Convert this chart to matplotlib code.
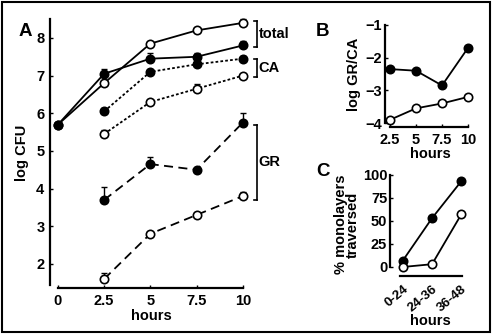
import matplotlib
matplotlib.use("Agg")
import matplotlib.pyplot as plt
from matplotlib.patches import Rectangle

plt.rcParams['font.family'] = ['Liberation Sans', 'DejaVu Sans']
plt.rcParams['font.weight'] = 'bold'

# Panel A data
hours_a = [0, 2.5, 5, 7.5, 10]
hours_a2 = [2.5, 5, 7.5, 10]
total_filled = [5.7, 7.05, 7.45, 7.5, 7.8]
total_filled_err = [0.0, 0.12, 0.15, 0.1, 0.12]
total_open = [5.7, 6.8, 7.85, 8.2, 8.4]
total_open_err = [0.0, 0.0, 0.0, 0.0, 0.1]
ca_filled = [6.05, 7.1, 7.3, 7.45]
ca_filled_err = [0.1, 0.0, 0.0, 0.08]
ca_open = [5.45, 6.3, 6.65, 7.0]
ca_open_err = [0.1, 0.0, 0.12, 0.0]
gr_filled = [3.7, 4.65, 4.5, 5.75]
gr_filled_err = [0.35, 0.2, 0.0, 0.25]
gr_open = [1.6, 2.8, 3.3, 3.8]
gr_open_err = [0.15, 0.0, 0.0, 0.1]
a_xticks = [0, 2.5, 5, 7.5, 10]
a_xticklabels = ['0', '2.5', '5', '7.5', '10']
a_yticks = [2, 3, 4, 5, 6, 7, 8]

# Panel B data
hours_b = [2.5, 5, 7.5, 10]
b_filled = [-2.35, -2.4, -2.85, -1.7]
b_open = [-3.9, -3.55, -3.4, -3.2]
b_yticks = [-4, -3, -2, -1]
b_xticklabels = ['2.5', '5', '7.5', '10']

# Panel C data
c_categories = ['0-24', '24-36', '36-48']
c_filled = [7, 53, 93]
c_open = [0, 3, 57]
c_yticks = [0, 25, 50, 75, 100]

W, H = 492, 334
fig = plt.figure(figsize=(W / 100, H / 100), dpi=100)

def ax_px(l, t, r, b):
    return fig.add_axes([l / W, (H - b) / H, (r - l) / W, (b - t) / H])

lw = 1.3
ms = 6.0
fs = 10.5

def style(ax):
    for s in ['top', 'right']:
        ax.spines[s].set_visible(False)
    for s in ['left', 'bottom']:
        ax.spines[s].set_linewidth(1.6)
    ax.tick_params(direction='in', length=2.5, width=1, labelsize=fs, pad=4)
    for lab in ax.get_xticklabels() + ax.get_yticklabels():
        lab.set_fontweight('bold')

def series(ax, x, y, err, filled, ls):
    ax.plot(x, y, color='black', lw=lw, ls=ls, zorder=2)
    if err is not None:
        ax.errorbar(x, y, yerr=[[0] * len(err), err], fmt='none', ecolor='black',
                    elinewidth=1, capsize=2.5, capthick=1, zorder=2)
    ax.plot(x, y, ls='none', marker='o', ms=ms, mec='black', mew=1.2,
            mfc='black' if filled else 'white', zorder=3)

# Panel A
axA = ax_px(50, 18, 252, 288)
series(axA, hours_a, total_open, total_open_err, False, '-')
series(axA, hours_a, total_filled, total_filled_err, True, '-')
series(axA, hours_a2, ca_filled, ca_filled_err, True, (0, (1.5, 1.2)))
series(axA, hours_a2, ca_open, ca_open_err, False, (0, (1.5, 1.2)))
series(axA, hours_a2, gr_filled, gr_filled_err, True, (0, (5, 3)))
series(axA, hours_a2, gr_open, gr_open_err, False, (0, (5, 3)))
axA.set_xlim(-0.43, 10.5)
axA.set_ylim(1.36, 8.53)
axA.set_xticks(a_xticks)
axA.set_xticklabels(a_xticklabels)
axA.set_yticks(a_yticks)
axA.spines['left'].set_bounds(1.45, 8.5)
axA.spines['bottom'].set_bounds(0, 10)
style(axA)
axA.set_xlabel('hours', fontsize=fs, fontweight='bold', labelpad=1)
axA.set_ylabel('log CFU', fontsize=fs, fontweight='bold', labelpad=5)

# brackets
def bracket(ax, x, y0, y1, label):
    ax.plot([x, x], [y0, y1], color='black', lw=1.2, clip_on=False)
    ax.plot([x - 0.15, x], [y0, y0], color='black', lw=1.2, clip_on=False)
    ax.plot([x - 0.15, x], [y1, y1], color='black', lw=1.2, clip_on=False)
    ax.text(x + 0.12, (y0 + y1) / 2, label, fontsize=fs, fontweight='bold',
            va='center', ha='left', clip_on=False)

bracket(axA, 10.75, 7.75, 8.45, 'total')
bracket(axA, 10.75, 6.95, 7.45, 'CA')
bracket(axA, 10.75, 3.7, 5.7, 'GR')

# Panel B
axB = ax_px(385, 22, 475, 127)
axB.plot(hours_b, b_filled, color='black', lw=lw, marker='o', ms=ms, mfc='black', mec='black', mew=1.2)
axB.plot(hours_b, b_open, color='black', lw=lw, marker='o', ms=ms, mfc='white', mec='black', mew=1.2)
axB.set_xlim(2.02, 10.67)
axB.set_ylim(-4.12, -0.91)
axB.set_xticks(hours_b)
axB.set_xticklabels(b_xticklabels)
axB.set_yticks(b_yticks)
axB.set_yticklabels(['\u22124', '\u22123', '\u22122', '\u22121'])
axB.spines['left'].set_bounds(-4, -1)
axB.spines['bottom'].set_bounds(2.5, 10)
style(axB)
axB.tick_params(axis='y', pad=2)
axB.set_xlabel('hours', fontsize=fs, fontweight='bold', labelpad=0)
axB.set_ylabel('log GR/CA', fontsize=fs, fontweight='bold', labelpad=3)

# Panel C
axC = ax_px(390, 173, 470, 276)
xc = list(range(len(c_categories)))
axC.plot(xc, c_filled, color='black', lw=lw, marker='o', ms=ms, mfc='black', mec='black', mew=1.2)
axC.plot(xc, c_open, color='black', lw=lw, marker='o', ms=ms, mfc='white', mec='black', mew=1.2)
axC.set_xlim(-0.44, 2.3)
axC.set_ylim(-9.8, 102)
axC.set_xticks(xc)
axC.set_xticklabels(c_categories, rotation=40, ha='right', rotation_mode='anchor')
axC.set_yticks(c_yticks)
axC.spines['left'].set_bounds(0, 100)
axC.spines['bottom'].set_bounds(-0.1, 2.03)
style(axC)
axC.tick_params(axis='x', length=0, pad=5)
axC.tick_params(axis='y', pad=2)
for lab in axC.get_xticklabels():
    lab.set_fontsize(9.5)
for lab, dx in zip(axC.get_xticklabels(), [6, 8, 14]):
    lab.set_x(lab.get_position()[0])
axC.set_xlabel('hours', fontsize=fs, fontweight='bold', labelpad=0)
axC.set_ylabel('% monolayers\ntraversed', fontsize=fs, fontweight='bold', labelpad=2, linespacing=0.85)

# Panel letters
fig.text(19 / W, (H - 32) / H, 'A', fontsize=13.5, fontweight='bold', va='center', ha='left')
fig.text(316 / W, (H - 32) / H, 'B', fontsize=13.5, fontweight='bold', va='center', ha='left')
fig.text(316 / W, (H - 172) / H, 'C', fontsize=13.5, fontweight='bold', va='center', ha='left')

# Figure border
fig.add_artist(Rectangle((2 / W, 2 / H), (W - 4) / W, (H - 4) / H, transform=fig.transFigure,
                         fill=False, lw=1.5, ec='black'))

fig.savefig('out.png', dpi=100)
